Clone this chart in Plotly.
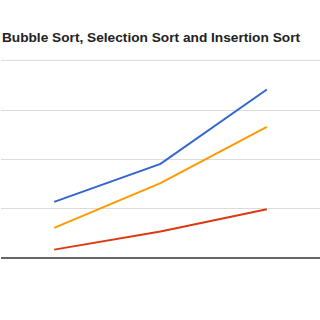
import plotly.graph_objects as go

categories = ["A", "B", "C"]
bubble = [1.14, 1.91, 3.42]
selection = [0.61, 1.52, 2.66]
insertion = [0.17, 0.54, 0.99]

fig = go.Figure()
fig.add_trace(go.Scatter(x=categories, y=bubble, mode="lines", name="Bubble Sort",
                         line=dict(color="#3366cc", width=2)))
fig.add_trace(go.Scatter(x=categories, y=selection, mode="lines", name="Selection Sort",
                         line=dict(color="#ff9900", width=2)))
fig.add_trace(go.Scatter(x=categories, y=insertion, mode="lines", name="Insertion Sort",
                         line=dict(color="#dc3912", width=2)))

fig.update_layout(
    width=320, height=320,
    margin=dict(l=1, r=0, t=56, b=62),
    paper_bgcolor="white", plot_bgcolor="white",
    showlegend=False,
    title=dict(text="<b>Bubble Sort, Selection Sort and Insertion Sort</b>",
               x=0.006, xanchor="left", xref="container",
               y=(320 - 37.5) / 320, yanchor="middle", yref="container",
               font=dict(family="Liberation Sans, Arial, sans-serif", size=13.7, color="#222222")),
    xaxis=dict(type="category", range=[-0.5, 2.5], showgrid=False, showticklabels=False,
               ticks="", zeroline=False, showline=False),
    yaxis=dict(range=[0, 4.1], dtick=1, showgrid=True, gridcolor="#dcdcdc", gridwidth=1,
               showticklabels=False, ticks="", zeroline=True, zerolinecolor="#666666",
               zerolinewidth=1.5, showline=False),
)
fig.write_html("out.html")
